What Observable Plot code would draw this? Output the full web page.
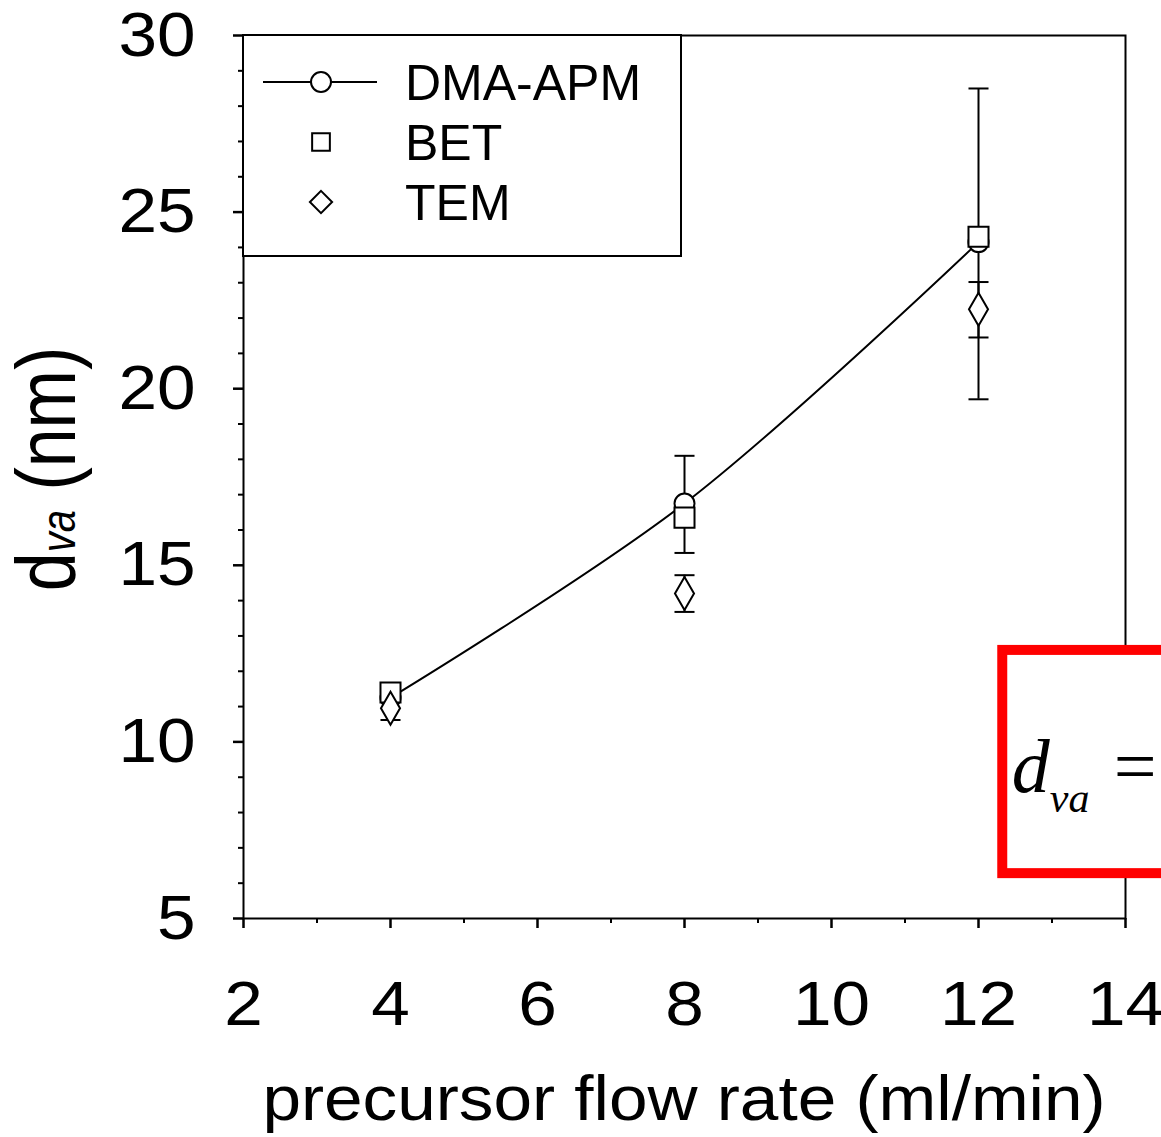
<!DOCTYPE html>
<html>
<head>
<meta charset="utf-8">
<script src="https://cdn.jsdelivr.net/npm/d3@7"></script>
<script src="https://cdn.jsdelivr.net/npm/@observablehq/plot@0.6"></script>
<style>
  body { margin: 0; background: #fff; overflow: hidden; }
  #chart svg { display: block; }
</style>
</head>
<body>
<div id="chart"></div>
<script>
// ---- data ----
const flowRate   = [4, 8, 12];
const dmaApm     = [11.25, 16.75, 24.15];
const dmaApmLow  = [null, 15.35, 19.7];
const dmaApmHigh = [null, 18.1, 28.5];
const bet        = [11.4, 16.35, 24.3];
const tem        = [10.95, 14.2, 22.25];
const temLow     = [10.62, 13.68, 21.45];
const temHigh    = [11.15, 14.72, 23.02];

const seriesNames = ["DMA-APM", "BET", "TEM"];
const xMajor = [2, 4, 6, 8, 10, 12, 14];
const xMinor = [3, 5, 7, 9, 11, 13];
const yMajor = [5, 10, 15, 20, 25, 30];
const yMinor = d3.range(5, 31).filter(v => v % 5 !== 0);
const xLabel = "precursor flow rate (ml/min)";

// red formula annotation (data space)
const formulaBoxX = [12.33, 14.9];
const formulaBoxY = [6.27, 12.59];
const formulaAnchor = [12.46, 8.57];

// ---- tables built from arrays ----
const rows = flowRate.map((x, i) => ({x, dma: dmaApm[i], bet: bet[i], tem: tem[i]}));
const errRows = [];
flowRate.forEach((x, i) => {
  if (dmaApmLow[i] != null) errRows.push({x, lo: dmaApmLow[i], hi: dmaApmHigh[i]});
  errRows.push({x, lo: temLow[i], hi: temHigh[i]});
});
const caps = errRows.flatMap(d => [{x: d.x, y: d.lo}, {x: d.x, y: d.hi}]);

const capSymbol = {
  draw(ctx, size) {
    const w = Math.sqrt(size);
    ctx.moveTo(-w / 2, 0);
    ctx.lineTo(w / 2, 0);
  }
};

const FONT = "'Liberation Sans', Arial, sans-serif";
const STRETCH = 1.1;

const chart = Plot.plot({
  width: 1161,
  height: 1137,
  marginLeft: 243,
  marginRight: 36,
  marginTop: 35,
  marginBottom: 219,
  x: {domain: [2, 14]},
  y: {domain: [5, 30]},
  style: {fontFamily: FONT, color: "#000", background: "#fff"},
  marks: [
    Plot.axisX(xMinor, {tickSize: 5, strokeWidth: 2, tickFormat: () => "", label: null}),
    Plot.axisY(yMinor, {tickSize: 5, strokeWidth: 2, tickFormat: () => "", label: null}),
    Plot.axisX(xMajor, {tickSize: 10, strokeWidth: 2.5, tickPadding: 52, fontSize: 63, label: null, tickFormat: d => String(d)}),
    Plot.axisY(yMajor, {tickSize: 10, strokeWidth: 2.5, tickPadding: 38, fontSize: 63, label: null, tickFormat: d => String(d)}),
    Plot.frame({stroke: "#000", strokeWidth: 2}),
    Plot.line(rows, {x: "x", y: "dma", curve: "catmull-rom", stroke: "#000", strokeWidth: 2}),
    Plot.ruleX(errRows, {x: "x", y1: "lo", y2: "hi", stroke: "#000", strokeWidth: 2}),
    Plot.dot(caps, {x: "x", y: "y", symbol: capSymbol, r: 11.3, stroke: "#000", strokeWidth: 2, fill: "none"}),
    Plot.dot(rows, {x: "x", y: "dma", symbol: "circle", r: 10, stroke: "#000", strokeWidth: 2, fill: "#fff"}),
    Plot.dot(rows, {x: "x", y: "bet", symbol: "square", r: 11.3, stroke: "#000", strokeWidth: 2, fill: "#fff"}),
    Plot.dot(rows, {x: "x", y: "tem", symbol: "diamond", r: 10, stroke: "#000", strokeWidth: 2, fill: "#fff"}),
    Plot.rect([0], {x1: () => formulaBoxX[0], x2: () => formulaBoxX[1], y1: () => formulaBoxY[0], y2: () => formulaBoxY[1],
      fill: "#fff", stroke: "#ff0000", strokeWidth: 10, clip: false})
  ]
});

document.getElementById("chart").appendChild(chart);

const svg = d3.select(chart);
const sx = chart.scale("x");
const sy = chart.scale("y");

// slight horizontal stretch of tick labels (as in the reference)
svg.selectAll('g[aria-label="x-axis tick label"] text, g[aria-label="y-axis tick label"] text').each(function () {
  const t = this.getAttribute("transform");
  if (t) this.setAttribute("transform", t + ` scale(${STRETCH},1)`);
});

// ---- legend (top-left inside the frame) ----
const lx = sx.apply(2), ly = sy.apply(30);
const leg = svg.append("g").attr("font-family", FONT).attr("text-anchor", "start");
leg.append("rect").attr("x", lx).attr("y", ly).attr("width", 438).attr("height", 221)
  .attr("fill", "#fff").attr("stroke", "#000").attr("stroke-width", 2);
const rowsY = [47, 107, 167];
const symArea = r => Math.PI * r * r;
leg.append("line").attr("x1", lx + 20).attr("x2", lx + 134).attr("y1", ly + rowsY[0]).attr("y2", ly + rowsY[0])
  .attr("stroke", "#000").attr("stroke-width", 2);
leg.append("path").attr("d", d3.symbol(d3.symbolCircle, symArea(10))())
  .attr("transform", `translate(${lx + 78},${ly + rowsY[0]})`).attr("fill", "#fff").attr("stroke", "#000").attr("stroke-width", 2);
leg.append("path").attr("d", d3.symbol(d3.symbolSquare, symArea(10))())
  .attr("transform", `translate(${lx + 78},${ly + rowsY[1]})`).attr("fill", "#fff").attr("stroke", "#000").attr("stroke-width", 2);
leg.append("path").attr("d", d3.symbol(d3.symbolDiamond2, symArea(10))())
  .attr("transform", `translate(${lx + 78},${ly + rowsY[2]})`).attr("fill", "#fff").attr("stroke", "#000").attr("stroke-width", 2);
seriesNames.forEach((name, i) => {
  leg.append("text").attr("x", lx + 162).attr("y", ly + rowsY[i]).attr("dy", "0.36em")
    .attr("text-anchor", "start").attr("font-size", 50).attr("fill", "#000").text(name);
});

// ---- y-axis label: d_va (nm) ----
const yl = svg.append("text")
  .attr("transform", `translate(75,469) rotate(-90) scale(1,1.2)`)
  .attr("text-anchor", "middle").attr("font-family", FONT).attr("font-size", 70).attr("fill", "#000");
yl.append("tspan").text("d");
yl.append("tspan").attr("font-size", 40).attr("font-style", "italic").text("va");
yl.append("tspan").text(" (nm)");

// ---- x-axis label ----
svg.append("text")
  .attr("transform", `translate(${(sx.apply(2) + sx.apply(14)) / 2},1120) scale(${STRETCH},1)`)
  .attr("text-anchor", "middle").attr("font-family", FONT).attr("font-size", 63).attr("fill", "#000")
  .text(xLabel);

// ---- formula text inside red box ----
const fx = sx.apply(formulaAnchor[0]), fy = sy.apply(formulaAnchor[1]);
const ft = svg.append("text").attr("x", fx).attr("y", fy).attr("text-anchor", "start")
  .attr("font-family", "'Liberation Serif', 'Times New Roman', serif").attr("font-size", 76).attr("fill", "#000");
ft.append("tspan").attr("font-style", "italic").text("d");
ft.append("tspan").attr("font-style", "italic").attr("font-size", 42).attr("dy", 20).text("va");
ft.append("tspan").attr("x", fx + 102).attr("dy", -20).text("=");
</script>
</body>
</html>
